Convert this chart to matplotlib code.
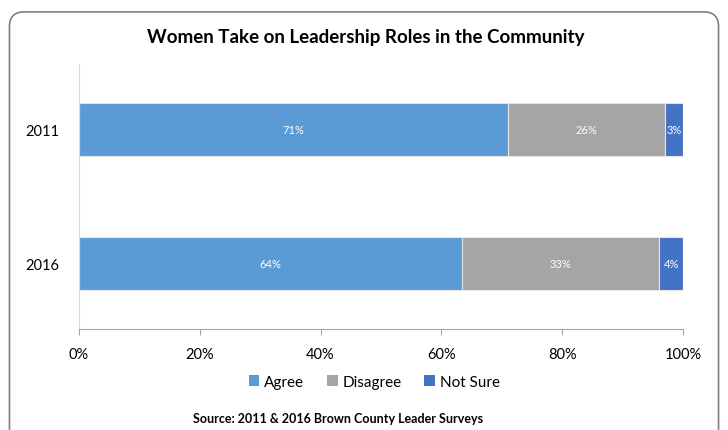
import numpy as np
import matplotlib.pyplot as plt
from matplotlib.patches import FancyBboxPatch, Patch
from matplotlib.ticker import PercentFormatter

plt.rcParams['font.family'] = ['Lato', 'DejaVu Sans']

# survey results (percent of respondents)
years = ['2011', '2016']
agree = np.array([71, 64])
disagree = np.array([26, 33])
not_sure = np.array([3, 4])

series = [('Agree', agree, '#5B9BD5'),
          ('Disagree', disagree, '#A5A5A5'),
          ('Not Sure', not_sure, '#4472C4')]

# 100% stacked: each row scaled by its own total
total = agree + disagree + not_sure

fig = plt.figure(figsize=(7.28, 4.31), dpi=100)
ax = fig.add_axes([0.1085, 0.2343, 0.8297, 0.6149])

# rounded chart frame
frame = FancyBboxPatch((0.013, -0.05), 0.974, 1.02, transform=fig.transFigure,
                       boxstyle='round,pad=0,rounding_size=0.02',
                       facecolor='none', edgecolor='#7f7f7f', linewidth=1.2,
                       mutation_aspect=728 / 431)
fig.patches.append(frame)

y = np.arange(len(years))
left = np.zeros(len(years))
for name, vals, color in series:
    share = vals / total
    ax.barh(y, share, left=left, height=0.4, color=color,
            edgecolor='#e6e6e6', linewidth=0.8)
    for yi, l, s, v in zip(y, left, share, vals):
        ax.text(l + s / 2, yi, f'{v}%', ha='center', va='center',
                color='white', fontsize=8)
    left += share

ax.set_xlim(0, 1)
ax.set_ylim(1.489, -0.489)
ax.set_yticks(y)
ax.set_yticklabels(years, fontsize=10.5)
ax.tick_params(axis='y', length=0, pad=14)
ax.set_xticks(np.linspace(0, 1, 6))
ax.xaxis.set_major_formatter(PercentFormatter(1.0, decimals=0))
ax.tick_params(axis='x', labelsize=10.5, length=4, color='#a6a6a6', pad=9)

for s in ['top', 'right']:
    ax.spines[s].set_visible(False)
ax.spines['left'].set_color('#d9d9d9')
ax.spines['bottom'].set_color('#a6a6a6')

fig.text(0.502, 0.912, 'Women Take on Leadership Roles in the Community',
         ha='center', va='center', fontsize=13.5, fontweight='bold')

handles = [Patch(facecolor=c, label=n) for n, _, c in series]
fig.legend(handles=handles, loc='center', bbox_to_anchor=(0.514, 0.111),
           ncol=3, frameon=False, fontsize=11, handlelength=0.7,
           handleheight=0.7, handletextpad=0.3, columnspacing=1.5)

fig.text(0.464, 0.028, 'Source: 2011 & 2016 Brown County Leader Surveys',
         ha='center', va='center', fontsize=9, fontweight='bold')

fig.savefig('out.png', dpi=100)
